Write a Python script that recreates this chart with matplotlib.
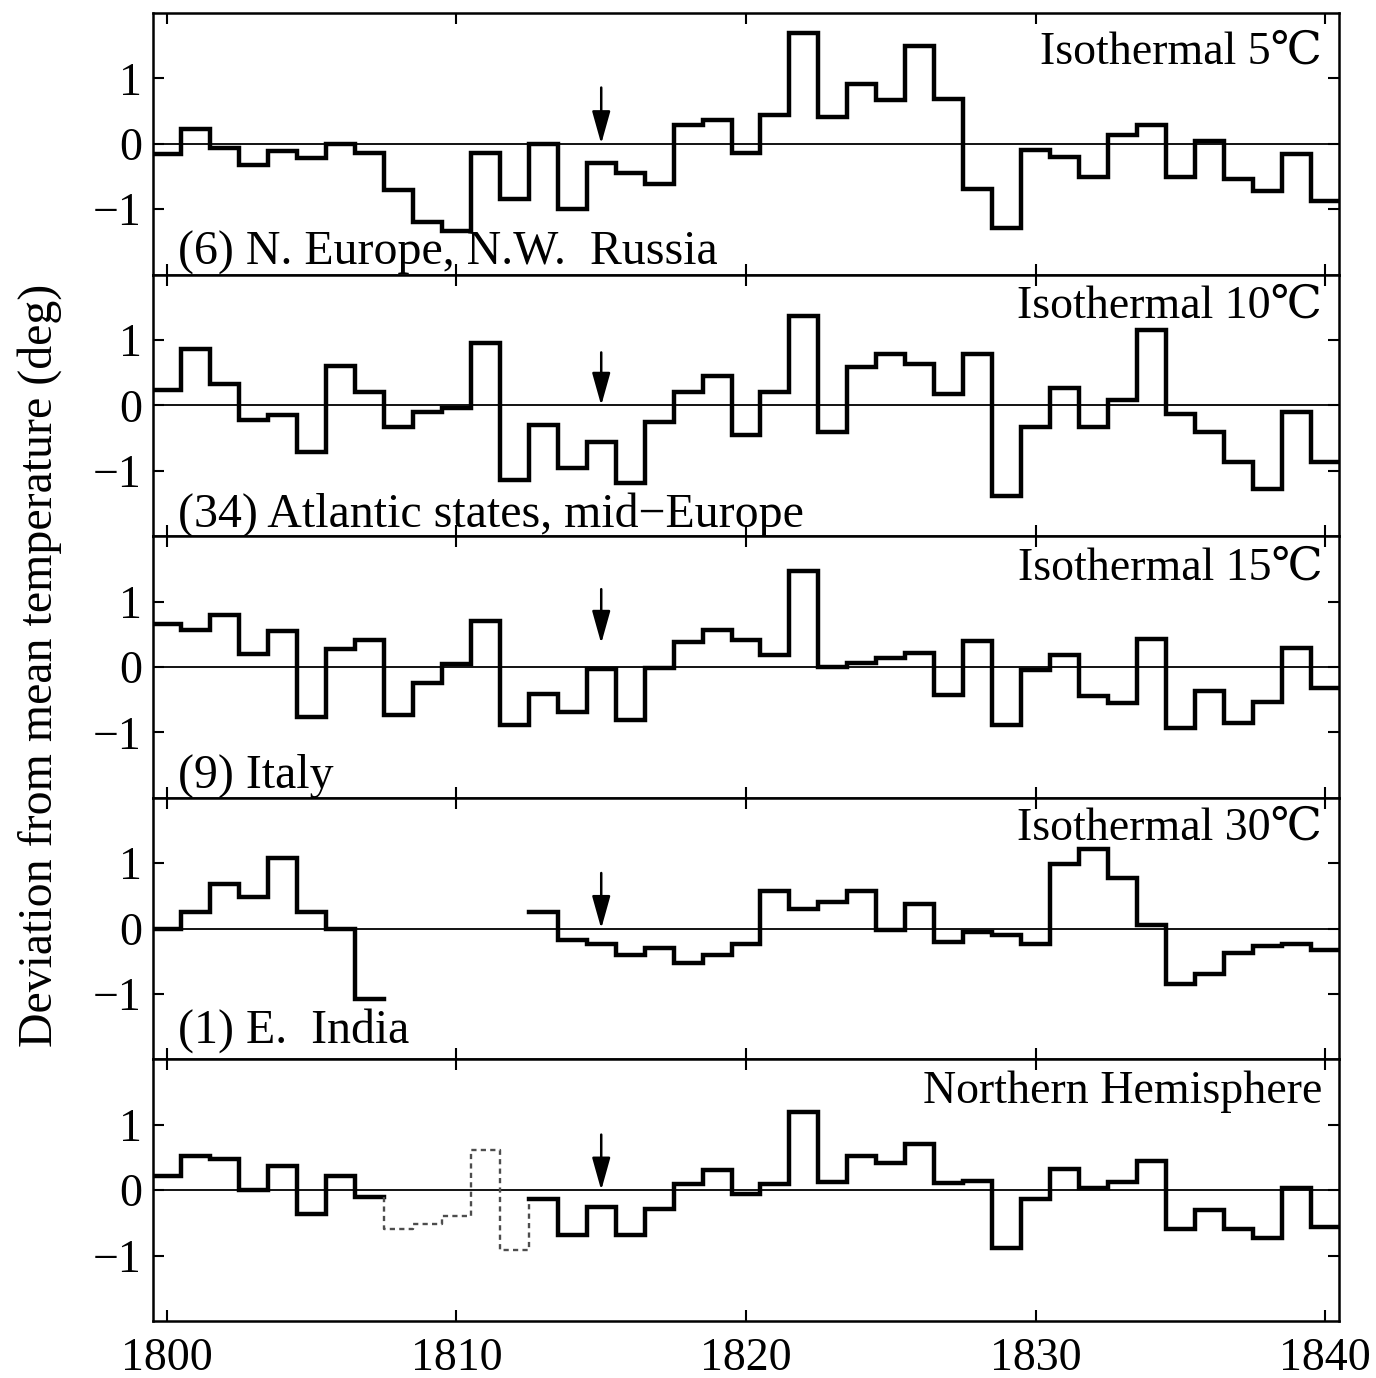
import numpy as np
import matplotlib
matplotlib.use("Agg")
import matplotlib.pyplot as plt

plt.rcParams["font.family"] = ["Liberation Serif", "DejaVu Serif", "DejaVu Sans"]

# ---- data: annual temperature deviations (deg), 1800-1840 ----
years = np.arange(1800, 1841)

n_europe = [-0.16, 0.22, -0.06, -0.32, -0.11, -0.21, 0.00, -0.14, -0.70, -1.20,
            -1.34, -0.14, -0.85, 0.00, -1.00, -0.29, -0.44, -0.61, 0.28, 0.37,
            -0.14, 0.44, 1.69, 0.41, 0.92, 0.67, 1.49, 0.69, -0.69, -1.28,
            -0.10, -0.20, -0.51, 0.14, 0.28, -0.51, 0.05, -0.54, -0.72, -0.15,
            -0.87]

atlantic = [0.23, 0.86, 0.33, -0.23, -0.15, -0.71, 0.61, 0.20, -0.33, -0.10,
            -0.04, 0.96, -1.14, -0.30, -0.96, -0.56, -1.19, -0.25, 0.20, 0.45,
            -0.46, 0.20, 1.36, -0.41, 0.59, 0.79, 0.64, 0.18, 0.79, -1.38,
            -0.33, 0.26, -0.33, 0.08, 1.15, -0.13, -0.41, -0.87, -1.28, -0.10,
            -0.87]

italy = [0.66, 0.57, 0.79, 0.20, 0.55, -0.76, 0.28, 0.41, -0.74, -0.25,
         0.05, 0.70, -0.89, -0.41, -0.69, -0.03, -0.81, -0.02, 0.38, 0.56,
         0.41, 0.19, 1.47, 0.00, 0.06, 0.13, 0.21, -0.43, 0.39, -0.89,
         -0.04, 0.19, -0.44, -0.55, 0.43, -0.94, -0.36, -0.86, -0.54, 0.29,
         -0.32]

e_india = [0.00, 0.25, 0.68, 0.49, 1.08, 0.25, 0.00, -1.08, np.nan, np.nan,
           np.nan, np.nan, np.nan, 0.25, -0.18, -0.23, -0.40, -0.29, -0.53, -0.40,
           -0.23, 0.58, 0.30, 0.40, 0.58, -0.02, 0.38, -0.20, -0.05, -0.10,
           -0.23, 0.99, 1.22, 0.77, 0.05, -0.84, -0.69, -0.38, -0.27, -0.24,
           -0.33]

n_hemisphere = [0.22, 0.52, 0.47, 0.00, 0.37, -0.36, 0.22, -0.10, -0.59, -0.51,
                -0.40, 0.62, -0.92, -0.14, -0.69, -0.26, -0.69, -0.28, 0.10, 0.31,
                -0.06, 0.10, 1.20, 0.13, 0.52, 0.41, 0.71, 0.11, 0.14, -0.88,
                -0.14, 0.33, 0.03, 0.13, 0.45, -0.59, -0.30, -0.60, -0.73, 0.03,
                -0.57]

# Northern Hemisphere years with uncertain estimates (dashed)
nh_dashed_first, nh_dashed_last = 1808, 1812

series = [n_europe, atlantic, italy, e_india, n_hemisphere]
titles = ["Isothermal 5℃", "Isothermal 10℃", "Isothermal 15℃",
          "Isothermal 30℃", "Northern Hemisphere"]
regions = ["(6) N. Europe, N.W.  Russia", "(34) Atlantic states, mid−Europe",
           "(9) Italy", "(1) E.  India", ""]
event_year = 1815
xtick_years = [1800, 1810, 1820, 1830, 1840]
ytick_values = [-1, 0, 1]
ytick_labels = ["−1", "0", "1"]


def step_path(yrs, vals):
    """Histogram-style outline, each value spanning its year +/- 0.5."""
    edges = np.append(yrs - 0.5, yrs[-1] + 0.5)
    xs = np.repeat(edges, 2)[1:-1]
    ys = np.repeat(np.asarray(vals, dtype=float), 2)
    return xs, ys


# ---- layout ----
W, H = 1376, 1378
fig = plt.figure(figsize=(W / 100, H / 100), dpi=100)
left, right = 153 / W, 1339 / W
top, bottom = 1 - 13 / H, 1 - 1321 / H
gs = fig.add_gridspec(5, 1, left=left, right=right, top=top, bottom=bottom, hspace=0)

FS_TICK = 33
FS_TITLE = 33
FS_REGION = 34.5
LW = 3.2
title_y = [0.805, 0.835, 0.835, 0.842, 0.832]
region_y = [0.037, 0.036, 0.038, 0.065, 0.0]
arrow_spans = [(0.86, 0.0), (0.81, 0.0), (1.19, 0.36), (0.85, 0.0), (0.85, 0.0)]

axes = []
for i, vals in enumerate(series):
    ax = fig.add_subplot(gs[i, 0], sharex=axes[0] if axes else None)
    axes.append(ax)

    ax.axhline(0, color="black", lw=1.3, zorder=1)
    xs, ys = step_path(years, vals)
    if i == 4:
        i0 = nh_dashed_first - years[0]
        i1 = nh_dashed_last - years[0] + 1
        ax.plot(xs[:2 * i0], ys[:2 * i0], color="black", lw=LW,
                solid_joinstyle="miter", zorder=3)
        ax.plot(xs[2 * i0 - 1:2 * i1 + 1], ys[2 * i0 - 1:2 * i1 + 1],
                color="0.3", lw=1.7, linestyle=(0, (2.2, 1.8)), zorder=3)
        ax.plot(xs[2 * i1:], ys[2 * i1:], color="black", lw=LW,
                solid_joinstyle="miter", zorder=3)
    else:
        ax.plot(xs, ys, color="black", lw=LW, solid_joinstyle="miter", zorder=3)

    tail, tip = arrow_spans[i]
    ax.annotate("", xy=(event_year, tip), xytext=(event_year, tail),
                arrowprops=dict(arrowstyle="-|>,head_length=1.0,head_width=0.28",
                                mutation_scale=20, color="black", lw=1.8,
                                shrinkA=0, shrinkB=0), zorder=4)

    ax.text(0.986, title_y[i], titles[i], transform=ax.transAxes,
            ha="right", va="baseline", fontsize=FS_TITLE)
    if regions[i]:
        ax.text(0.021, region_y[i], regions[i], transform=ax.transAxes,
                ha="left", va="baseline", fontsize=FS_REGION)

    ax.set_ylim(-2.0, 2.0)
    ax.set_yticks(ytick_values)
    ax.set_yticklabels(ytick_labels)
    ax.tick_params(axis="both", direction="in", length=8, width=1.5,
                   top=True, right=True, labelsize=FS_TICK, pad=8)
    for sp in ax.spines.values():
        sp.set_linewidth(1.8)
    if i < 4:
        ax.tick_params(axis="x", labelbottom=False)

axes[0].set_xlim(1799.52, 1840.48)
axes[-1].set_xticks(xtick_years)
axes[-1].set_xticklabels([str(y) for y in xtick_years])
axes[-1].tick_params(axis="x", pad=12)

fig.text(40 / W, 1 - 665 / H, "Deviation from mean temperature (deg)",
         rotation=90, ha="center", va="center", fontsize=34.5)

fig.savefig("out.png", dpi=100)
